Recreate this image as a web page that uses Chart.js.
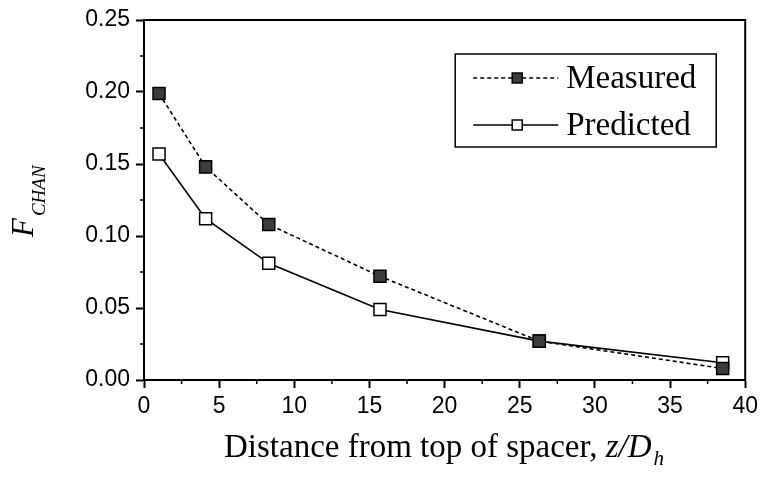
<html lang="en">
<head>
<meta charset="UTF-8">
<title>F_CHAN vs distance</title>
<script src="https://cdn.jsdelivr.net/npm/chart.js"></script>
<style>
  body { margin: 0; background: #fff; }
  #wrap { width: 763px; height: 478px; position: relative; }
</style>
</head>
<body>
<div id="wrap"><canvas id="c"></canvas></div>
<script>
// distance from top of spacer, z/Dh
const xVals = [1.0, 4.1, 8.3, 15.7, 26.3, 38.5];
const measured = [0.199, 0.148, 0.108, 0.072, 0.027, 0.008];
const predicted = [0.157, 0.112, 0.081, 0.049, 0.027, 0.012];
const seriesNames = ['Measured', 'Predicted'];

const pts = ys => xVals.map((x, i) => ({x: x, y: ys[i]}));

const serif = "'Liberation Serif', 'Times New Roman', serif";
const sans = "'Liberation Sans', Arial, sans-serif";

// minor ticks, frame, titles and legend
const extras = {
  id: 'extras',
  afterDraw(chart) {
    const {ctx, chartArea: a, scales: {x, y}} = chart;
    ctx.save();
    ctx.strokeStyle = '#000';
    ctx.lineWidth = 2;
    ctx.beginPath();
    ctx.moveTo(a.left, a.top); ctx.lineTo(a.right, a.top); ctx.lineTo(a.right, a.bottom);
    ctx.stroke();

    // minor ticks
    ctx.lineWidth = 1.5;
    ctx.beginPath();
    for (let v = 2.5; v < 40; v += 5) {
      const px = x.getPixelForValue(v);
      ctx.moveTo(px, a.bottom); ctx.lineTo(px, a.bottom + 4);
    }
    for (let v = 0.025; v < 0.25; v += 0.05) {
      const py = y.getPixelForValue(v);
      ctx.moveTo(a.left, py); ctx.lineTo(a.left - 4, py);
    }
    ctx.stroke();

    // x title
    ctx.fillStyle = '#000';
    ctx.textBaseline = 'alphabetic';
    const main = 'Distance from top of spacer, ';
    ctx.font = '33px ' + serif;
    const w1 = ctx.measureText(main).width;
    ctx.font = 'italic 33px ' + serif;
    const w2 = ctx.measureText('z/D').width;
    ctx.font = 'italic 21px ' + serif;
    const w3 = ctx.measureText('h').width;
    let tx = 443 - (w1 + w2 + w3) / 2;
    const ty = 457;
    ctx.font = '33px ' + serif;
    ctx.fillText(main, tx, ty);
    ctx.font = 'italic 33px ' + serif;
    ctx.fillText('z/D', tx + w1, ty);
    ctx.font = 'italic 21px ' + serif;
    ctx.fillText('h', tx + w1 + w2 + 2, ty + 8);

    // y title
    ctx.save();
    ctx.translate(33, 237);
    ctx.rotate(-Math.PI / 2);
    ctx.font = 'italic 31px ' + serif;
    const fw = ctx.measureText('F').width;
    ctx.fillText('F', 0, 0);
    ctx.font = 'italic 19px ' + serif;
    ctx.fillText('CHAN', fw + 2, 12);
    ctx.restore();

    // legend
    const lx = a.right - 290, ly = a.top + 34, lw = 261, lh = 93;
    ctx.lineWidth = 1.5;
    ctx.strokeRect(lx, ly, lw, lh);
    chart.data.datasets.forEach((ds, i) => {
      const ry = ly + 24 + i * 47;
      ctx.save();
      ctx.lineWidth = 1.5;
      ctx.setLineDash(ds.borderDash || []);
      ctx.beginPath();
      ctx.moveTo(lx + 18, ry); ctx.lineTo(lx + 103, ry);
      ctx.stroke();
      ctx.restore();
      ctx.fillStyle = ds.pointBackgroundColor;
      ctx.fillRect(lx + 57, ry - 5, 10, 10);
      ctx.lineWidth = 1.5;
      ctx.strokeRect(lx + 57, ry - 5, 10, 10);
      ctx.fillStyle = '#000';
      ctx.font = '33px ' + serif;
      ctx.textBaseline = 'middle';
      ctx.fillText(ds.label, lx + 111, ry + 1);
    });
    ctx.restore();
  }
};

new Chart(document.getElementById('c'), {
  type: 'scatter',
  data: {
    datasets: [
      {
        label: seriesNames[0],
        data: pts(measured),
        showLine: true,
        borderColor: '#000',
        borderWidth: 1.6,
        borderDash: [4, 3],
        pointStyle: 'rect',
        pointRadius: 8.5,
        pointBackgroundColor: '#3c3c3c',
        pointBorderColor: '#000',
        pointBorderWidth: 1.5
      },
      {
        label: seriesNames[1],
        data: pts(predicted),
        showLine: true,
        borderColor: '#000',
        borderWidth: 1.6,
        pointStyle: 'rect',
        pointRadius: 8.5,
        pointBackgroundColor: '#fff',
        pointBorderColor: '#000',
        pointBorderWidth: 1.5
      }
    ]
  },
  options: {
    responsive: true,
    maintainAspectRatio: false,
    animation: false,
    layout: { padding: { left: 0, right: 16, top: 20, bottom: 0 } },
    plugins: { legend: { display: false }, tooltip: { enabled: false } },
    scales: {
      x: {
        type: 'linear', min: 0, max: 40,
        afterFit: s => { s.height = 98; },
        ticks: { stepSize: 5, color: '#000', padding: 5, font: { family: sans, size: 23 } },
        grid: { drawOnChartArea: false, tickLength: 8, tickWidth: 2, tickColor: '#000' },
        border: { color: '#000', width: 2 }
      },
      y: {
        min: 0, max: 0.25,
        afterFit: s => { s.width = 144; },
        ticks: { stepSize: 0.05, color: '#000', padding: 6, font: { family: sans, size: 23 },
                 callback: v => v.toFixed(2) },
        grid: { drawOnChartArea: false, tickLength: 8, tickWidth: 2, tickColor: '#000' },
        border: { color: '#000', width: 2 }
      }
    }
  },
  plugins: [extras]
});
</script>
</body>
</html>
